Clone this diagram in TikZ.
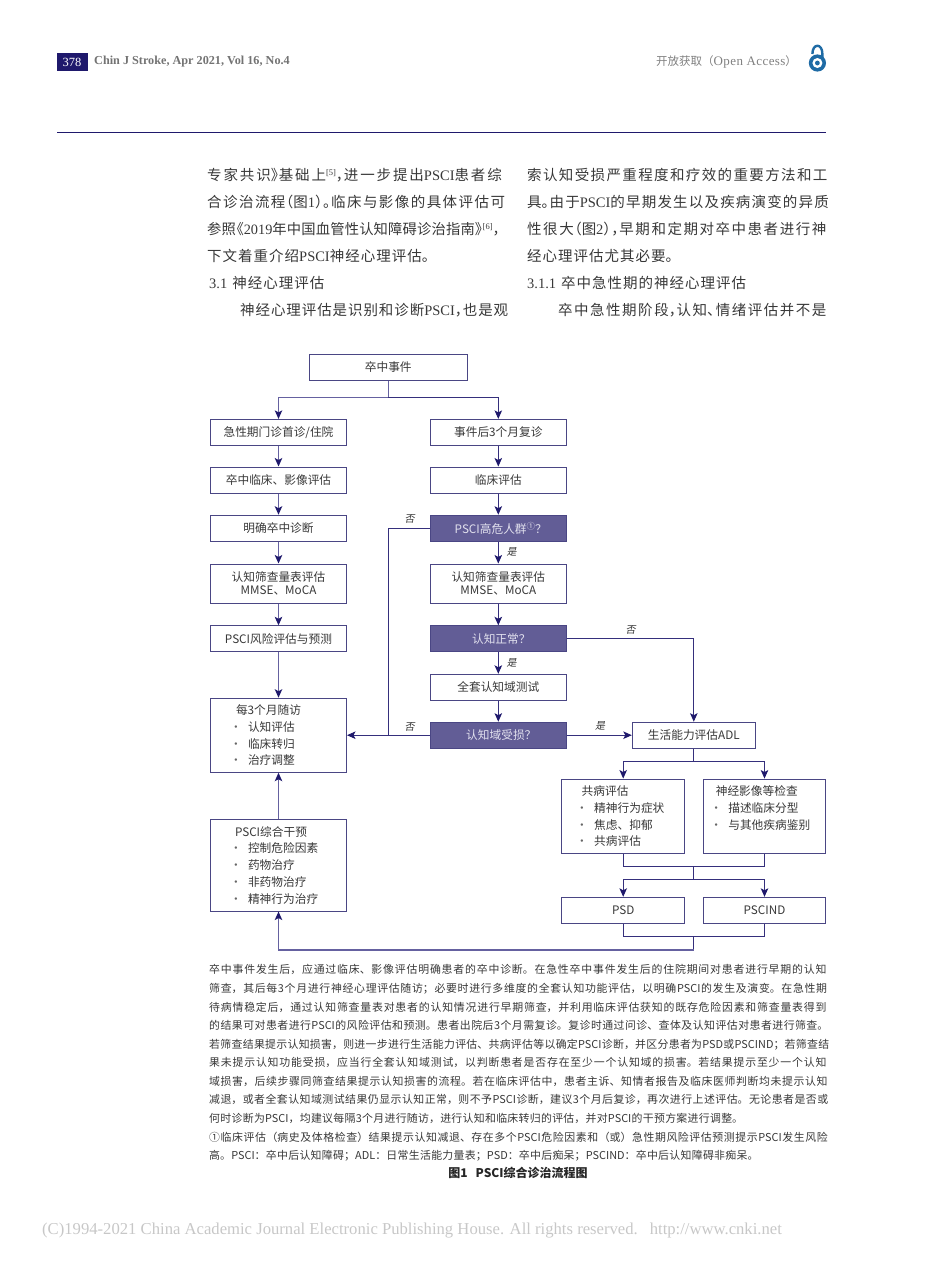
\documentclass[tikz,border=0pt]{standalone}
\usepackage{fontspec}
\usetikzlibrary{arrows.meta}
\setmainfont{Noto Sans CJK SC}
\newfontfamily\serf{Liberation Serif}
\newcommand\lat[1]{{\serf #1}}
\newcommand\bl[2]{\hspace*{#1pt}\makebox[13pt][l]{\hspace{-5pt}{\color{black!60}·}}#2}
\newcommand\hd[2]{\hspace*{#1pt}#2}
\newcommand\lpn{\hspace{-.45em}（}
\newcommand\rpn{）\hspace{-.45em}}
\newcommand\cma{，\hspace{-.45em}}
\newcommand\stp{。\hspace{-.45em}}
\newcommand\lbk{\hspace{-.45em}《}
\newcommand\rbk{》\hspace{-.45em}}
\newcommand\cjkglue[1]{\XeTeXlinebreaklocale "zh"\XeTeXlinebreakskip=#1 plus 4pt minus .6pt\relax\tolerance=9999\hbadness=10000\hfuzz=20pt\emergencystretch=0pt}
\definecolor{navy}{HTML}{1F196C}
\definecolor{linedark}{HTML}{352F7C}
\definecolor{linelight}{HTML}{6561A0}
\definecolor{boxedge}{HTML}{4A4684}
\definecolor{boxfill}{HTML}{625D96}
\definecolor{boxtxt}{HTML}{E2E1EE}
\definecolor{txt}{HTML}{383838}
\definecolor{oablue}{HTML}{1F6BA5}
\tikzset{
  box/.style={draw=boxedge,line width=1pt,fill=white,text=txt,inner sep=0pt,align=center,
    font=\fontsize{11.7}{13.5}\selectfont,minimum width=136pt,minimum height=26pt},
  tall/.style={minimum height=39pt},
  hot/.style={box,fill=boxfill,text=boxtxt},
  listbox/.style={box,align=left,font=\fontsize{11.7}{16.8}\selectfont},
  conn/.style={draw=linedark,line width=.95pt},
  connl/.style={draw=linelight,line width=1.15pt},
  arr/.style={conn,-{Stealth[length=8.5pt,width=7.5pt,inset=2pt,color=navy]}},
  arrl/.style={connl,-{Stealth[length=8.5pt,width=7.5pt,inset=2pt,color=navy]}},
  yn/.style={inner sep=0pt,text=black!80,font=\fontsize{10}{11}\selectfont\addfontfeature{FakeSlant=0.2}},
  bodytxt/.style={anchor=north west,inner sep=0pt,text=txt},
}
\begin{document}
\begin{tikzpicture}[x=1pt,y=-1pt]
\useasboundingbox (0,0) rectangle (950,1280);
% page header
\node[fill=navy,text=white,minimum width=31pt,minimum height=18pt,inner sep=0pt,font=\serf\fontsize{12.5}{14}\selectfont] (pageno) at (72,62) {378};
\node[anchor=west,inner sep=0pt,text=black!55,font=\serf\bfseries\fontsize{12.2}{14}\selectfont] (journal) at (94,62) {Chin J Stroke, Apr 2021, Vol 16, No.4};
\node[anchor=west,inner sep=0pt,text=black!50,font=\fontsize{11.5}{14}\selectfont] (access) at (656,62) {开放获取（{\serf\fontsize{13}{14}\selectfont\addfontfeature{LetterSpace=3}Open Access}）};
\draw[oablue,line width=2.4pt] (812.4,54) .. controls (812.4,43) and (822.4,43) .. (822.4,54) -- (822.4,58);
\fill[oablue] (817.4,63) circle[radius=8.6pt];
\fill[white] (817.4,63) circle[radius=5pt];
\fill[oablue] (817.4,63) circle[radius=2.4pt];
\draw[navy,line width=1.3pt] (57,132.3) -- (826,132.3);
% body text
\node[bodytxt,text width=301pt,font=\fontsize{14.5}{26.85}\selectfont] (bodyleft) at (207,168.5) {\cjkglue{1pt}专家共识\rbk 基础上\raisebox{5pt}{\fontsize{8.5}{9}\selectfont\lat{[5]}}\cma 进一步提出\lat{PSCI}患者综\linebreak
合诊治流程\lpn 图\lat{1}\rpn\stp 临床与影像的具体评估可\linebreak
{\fontsize{14.3}{26.85}\selectfont\XeTeXlinebreakskip=0pt plus 4pt\relax 参照\lbk\lat{2019}年中国血管性认知障碍诊治指南\rbk\raisebox{5pt}{\fontsize{8.5}{9}\selectfont\lat{[6]}}，}\linebreak
下文着重介绍\lat{PSCI}神经心理评估。\\
\hspace*{2pt}\lat{3.1}\hspace{5pt}神经心理评估\\
\hspace*{33pt}神经心理评估是识别和诊断\lat{PSCI}\cma 也是观\parfillskip=0pt\par};
\node[bodytxt,text width=303pt,font=\fontsize{14.5}{26.85}\selectfont] (bodyright) at (527,168.5) {\cjkglue{1pt}索认知受损严重程度和疗效的重要方法和工\linebreak
具\stp 由于\lat{PSCI}的早期发生以及疾病演变的异质\linebreak
性很大\lpn 图\lat{2}\rpn\cma 早期和定期对卒中患者进行神\linebreak
经心理评估尤其必要。\\
\lat{3.1.1}\hspace{5pt}卒中急性期的神经心理评估\\
\hspace*{31pt}卒中急性期阶段\cma 认知、\hspace{-.4em}情绪评估并不是\parfillskip=0pt\par};
% flow boxes
\node[box,minimum width=157.5pt] (event) at (388.25,367) {卒中事件};
\node[box] (acute) at (278.5,432.4) {急性期门诊首诊/住院};
\node[box] (stroke) at (278.5,480) {卒中临床、影像评估};
\node[box] (diag) at (278.5,528.2) {明确卒中诊断};
\node[box,tall] (screenl) at (278.5,583.5) {认知筛查量表评估\\MMSE、MoCA};
\node[box] (risk) at (278.5,638.8) {PSCI风险评估与预测};
\node[listbox,text width=136pt,minimum height=74pt] (follow) at (278.5,735.2) {\hd{25.5}{每3个月随访}\\\bl{24.5}{认知评估}\\\bl{24.5}{临床转归}\\\bl{24.5}{治疗调整}};
\node[listbox,text width=136pt,minimum height=91.5pt] (interv) at (278.5,865.3) {\hd{24.5}{PSCI综合干预}\\\bl{24.5}{控制危险因素}\\\bl{24.5}{药物治疗}\\\bl{24.5}{非药物治疗}\\\bl{24.5}{精神行为治疗}};
\node[box] (visit) at (498.3,432.4) {事件后3个月复诊};
\node[box] (clin) at (498.3,480) {临床评估};
\node[hot] (high) at (498.3,528.2) {\hspace*{5pt}PSCI高危人群\raisebox{3.5pt}{\fontsize{8.5}{9}\selectfont ①}？};
\node[box,tall] (screenr) at (498.3,583.5) {认知筛查量表评估\\MMSE、MoCA};
\node[hot] (normal) at (498.3,638.8) {\hspace*{6pt}认知正常？};
\node[box] (full) at (498.3,687.3) {全套认知域测试};
\node[hot] (domain) at (498.3,735.2) {\hspace*{6pt}认知域受损？};
\node[box,minimum width=123pt] (adl) at (693.8,735.2) {生活能力评估ADL};
\node[listbox,text width=123pt,minimum width=123pt,minimum height=74.3pt] (comorb) at (623.2,816.2) {\hd{20}{共病评估}\\\bl{19.5}{精神行为症状}\\\bl{19.5}{焦虑、抑郁}\\\bl{19.5}{共病评估}};
\node[listbox,text width=122.4pt,minimum width=122.4pt,minimum height=74.3pt] (neuro) at (764.5,816.2) {\hd{12.5}{神经影像等检查}\\\bl{12}{描述临床分型}\\\bl{12}{与其他疾病鉴别}\\\mbox{}};
\node[box,minimum width=123pt] (psd) at (623.2,910.3) {PSD};
\node[box,minimum width=122.4pt] (pscind) at (764.5,910.3) {PSCIND};
% junctions
\coordinate (jtop) at (388.25,397.7);
\coordinate (jno) at (388.3,735.2);
\coordinate (jadl) at (693.8,761);
\coordinate (jmerge) at (693.8,866.7);
\coordinate (jsplit) at (693.8,879.3);
\coordinate (jout) at (693.8,936.7);
\coordinate (jbase) at (693.8,950);
% connectors
\draw[connl] (event.south) -- (jtop);
\draw[arrl] (jtop) -| (acute.north);
\draw[arr] (jtop) -| (visit.north);
\draw[arrl] (acute) -- (stroke);
\draw[arrl] (stroke) -- (diag);
\draw[arrl] (diag) -- (screenl);
\draw[arrl] (screenl) -- (risk);
\draw[arrl] (risk) -- (follow);
\draw[arrl] (interv) -- (follow);
\draw[arr] (visit) -- (clin);
\draw[arr] (clin) -- (high);
\draw[arr] (high) -- (screenr);
\draw[arr] (screenr) -- (normal);
\draw[arr] (normal) -- (full);
\draw[arr] (full) -- (domain);
\draw[conn] (high.west) -| (jno);
\draw[arr] (domain.west) -- (follow.east);
\draw[arr] (normal.east) -| (adl.north);
\draw[arr] (domain.east) -- (adl.west);
\draw[conn] (adl.south) -- (jadl);
\draw[arr] (jadl) -| (comorb.north);
\draw[arr] (jadl) -| (neuro.north);
\draw[conn] (comorb.south) |- (jmerge);
\draw[conn] (neuro.south) |- (jmerge);
\draw[conn] (jmerge) -- (jsplit);
\draw[arr] (jsplit) -| (psd.north);
\draw[arr] (jsplit) -| (pscind.north);
\draw[conn] (psd.south) |- (jout);
\draw[conn] (pscind.south) |- (jout);
\draw[conn] (jout) -- (jbase);
\draw[arrl] (jbase) -| (interv.south);
% branch labels
\node[yn] (no1) at (409.5,519) {否};
\node[yn] (yes1) at (511.5,552) {是};
\node[yn] (yes2) at (511.5,663) {是};
\node[yn] (no2) at (409.5,727) {否};
\node[yn] (no3) at (630.5,629.5) {否};
\node[yn] (yes3) at (600,726) {是};
% caption text
\node[bodytxt,text width=620pt,font=\fontsize{10.9}{18.57}\selectfont] (note) at (209,964.5) {\cjkglue{.3pt}卒中事件发生后，应通过临床、影像评估明确患者的卒中诊断。在急性卒中事件发生后的住院期间对患者进行早期的认知\linebreak
筛查，其后每3个月进行神经心理评估随访；必要时进行多维度的全套认知功能评估，以明确PSCI的发生及演变。在急性期\linebreak
待病情稳定后，通过认知筛查量表对患者的认知情况进行早期筛查，并利用临床评估获知的既存危险因素和筛查量表得到\linebreak
的结果可对患者进行PSCI的风险评估和预测。患者出院后3个月需复诊。复诊时通过问诊、查体及认知评估对患者进行筛查。\linebreak
若筛查结果提示认知损害，则进一步进行生活能力评估、共病评估等以确定PSCI诊断，并区分患者为PSD或PSCIND；若筛查结\linebreak
果未提示认知功能受损，应当行全套认知域测试，以判断患者是否存在至少一个认知域的损害。若结果提示至少一个认知\linebreak
域损害，后续步骤同筛查结果提示认知损害的流程。若在临床评估中，患者主诉、知情者报告及临床医师判断均未提示认知\linebreak
减退，或者全套认知域测试结果仍显示认知正常，则不予PSCI诊断，建议3个月后复诊，再次进行上述评估。无论患者是否或\linebreak
何时诊断为PSCI，均建议每隔3个月进行随访，进行认知和临床转归的评估，并对PSCI的干预方案进行调整。\\
①临床评估（病史及体格检查）结果提示认知减退、存在多个PSCI危险因素和（或）急性期风险评估预测提示PSCI发生风险\linebreak
高。PSCI：卒中后认知障碍；ADL：日常生活能力量表；PSD：卒中后痴呆；PSCIND：卒中后认知障碍非痴呆。\par};
\node[inner sep=0pt,text=black!85,font=\bfseries\fontsize{12}{14}\selectfont] (figcap) at (518,1173) {图1\hspace{8pt}PSCI综合诊治流程图};
% watermark
\node[anchor=west,inner sep=0pt,text=black!22,font=\serf\fontsize{16.65}{18}\selectfont] (mark) at (42,1231) {(C)1994-2021 China Academic Journal Electronic Publishing House. All rights reserved.\hspace{12pt}http://www.cnki.net};
\end{tikzpicture}
\end{document}
